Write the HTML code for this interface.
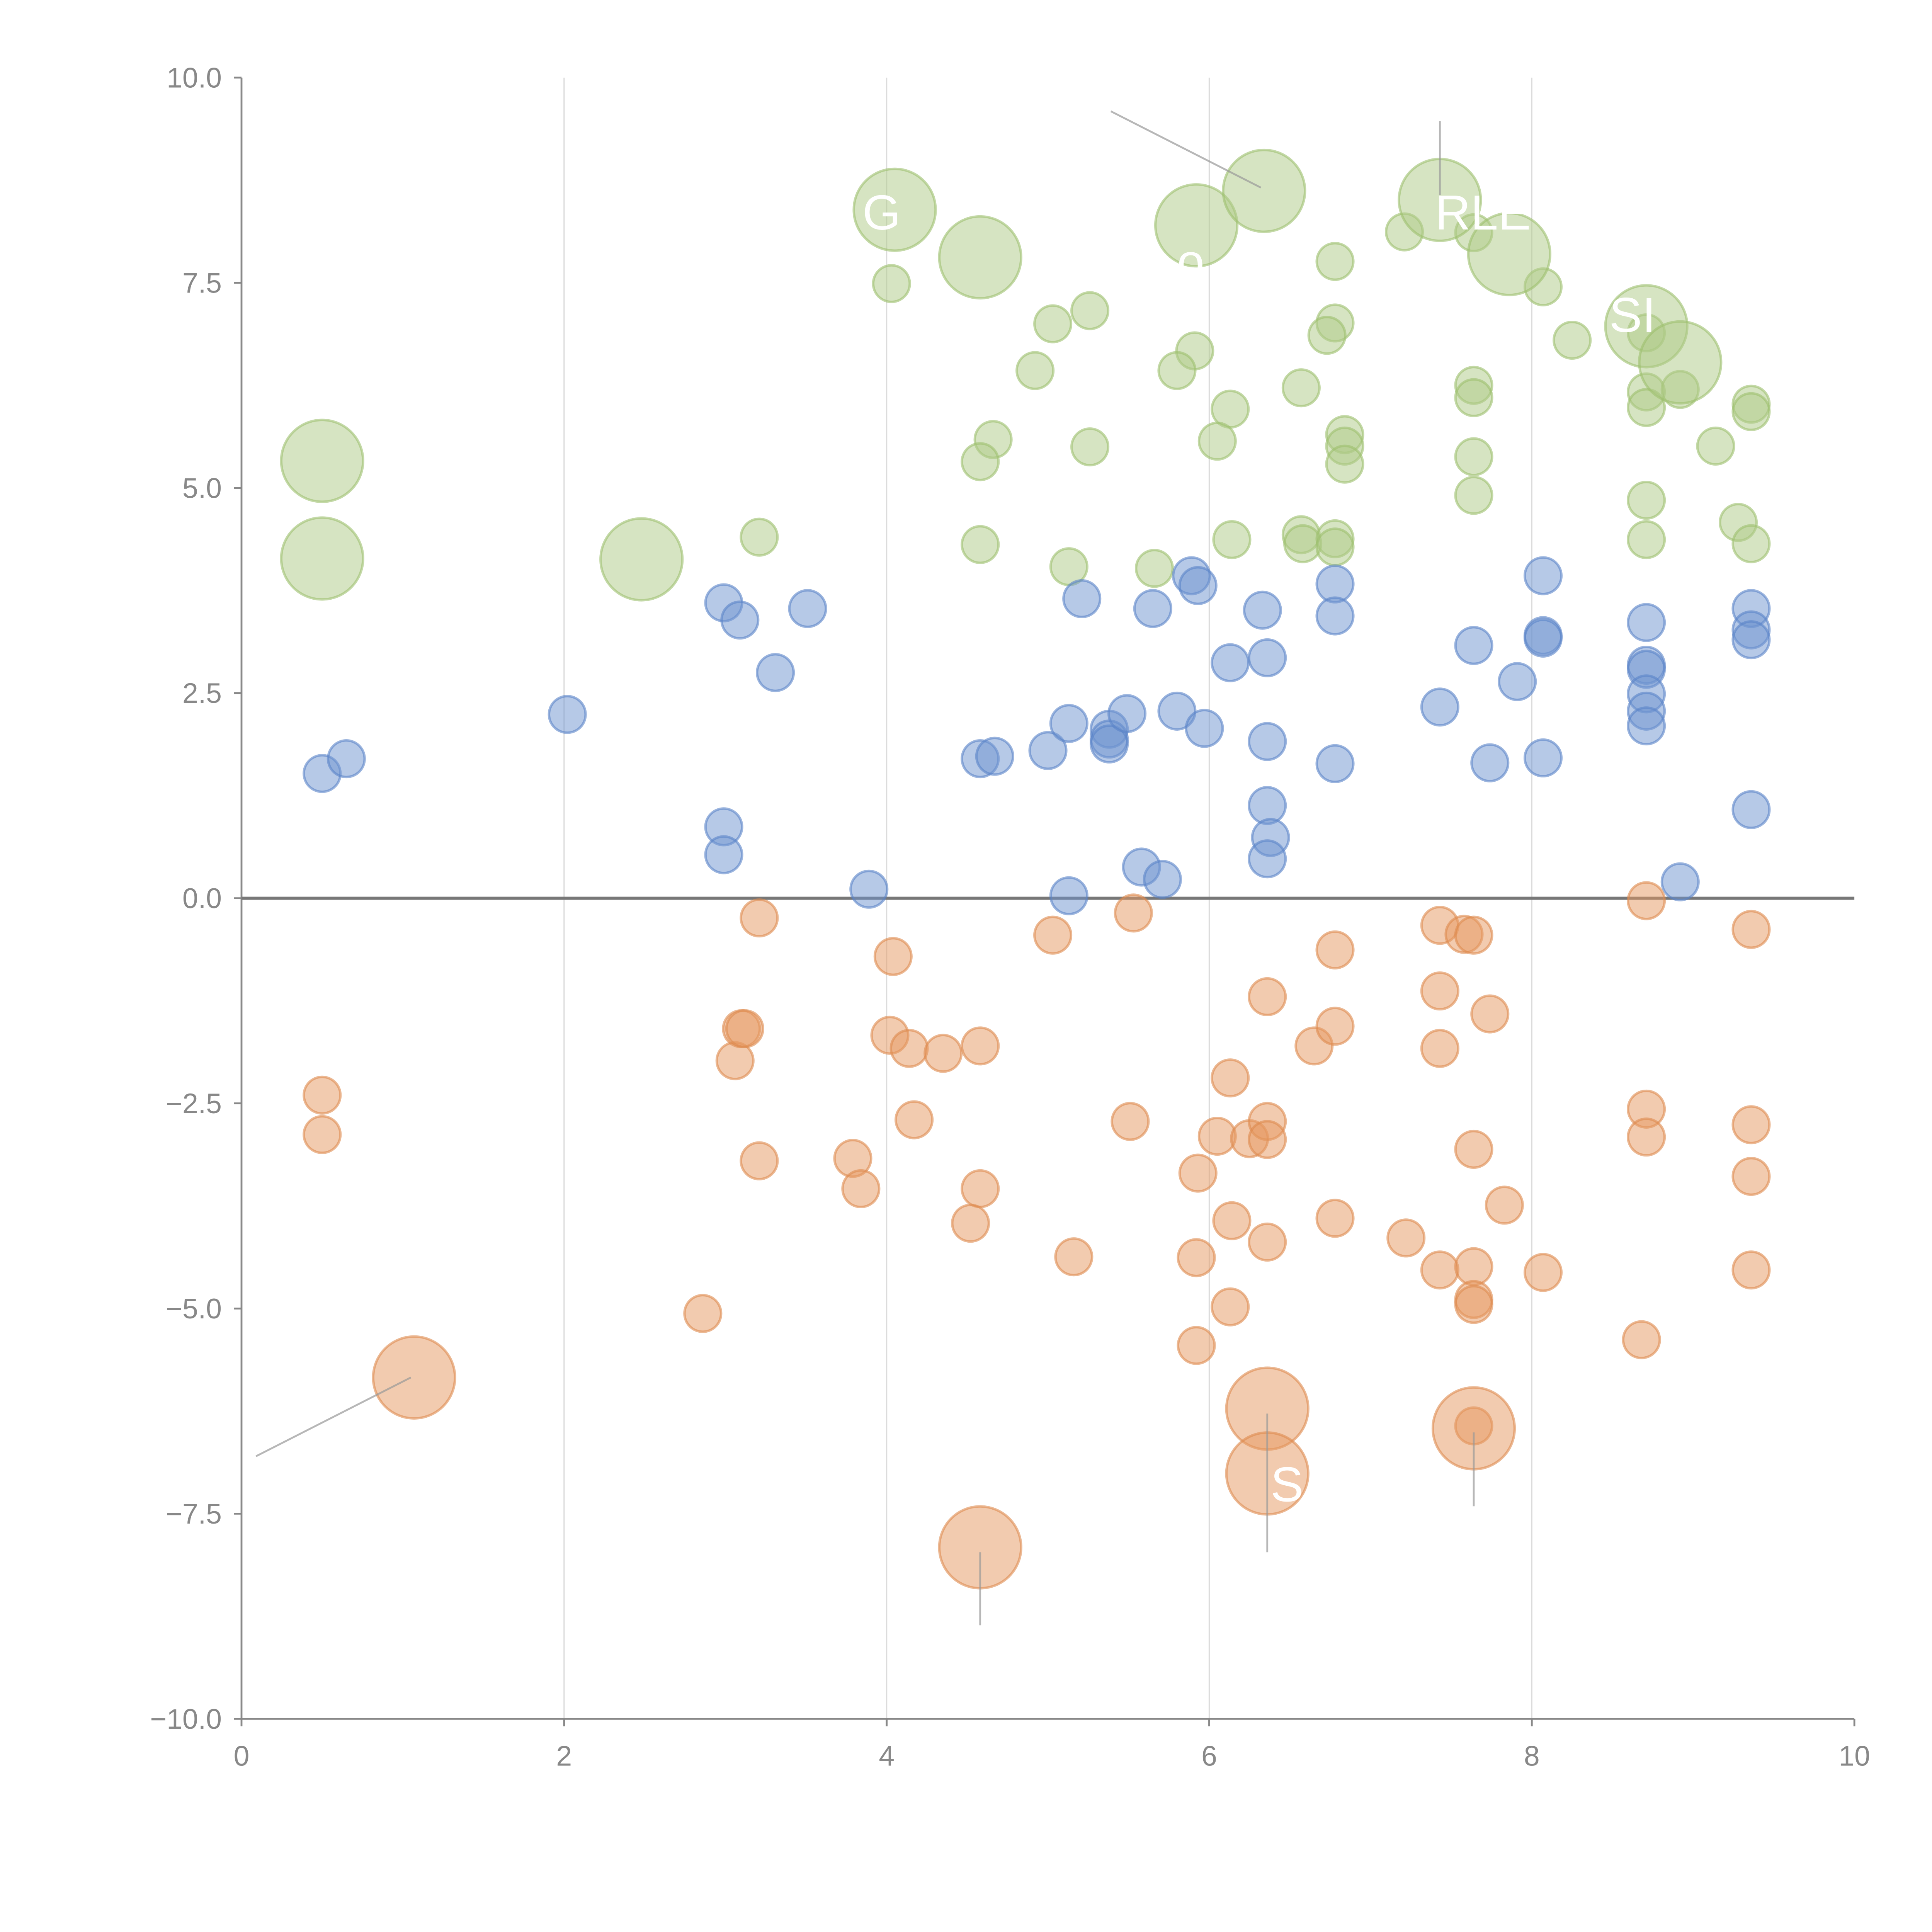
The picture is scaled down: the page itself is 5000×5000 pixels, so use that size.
<!DOCTYPE html>
<html><head><meta charset="utf-8"><style>
html,body{margin:0;padding:0;background:#fff;}
svg{display:block;font-family:"Liberation Sans",sans-serif;}
</style></head><body>
<svg id="chart" width="5000" height="5000" viewBox="0 0 1568 1568" xmlns="http://www.w3.org/2000/svg">
<g id="grid"></g>
<g id="axes"></g>
<g id="marks"></g>
<g id="leaders"></g>
<g id="labels"></g>
</svg>
<script>
const xTicks=[0,2,4,6,8,10];
const xTickLabels=["0","2","4","6","8","10"];
const yTicks=[-10,-7.5,-5,-2.5,0,2.5,5,7.5,10];
const yTickLabels=["\u221210.0","\u22127.5","\u22125.0","\u22122.5","0.0","2.5","5.0","7.5","10.0"];

const greenX=[4.03,5.03,5.26,4.92,4.66,4.58,5.26,4.58,5.13,5.66,3.21,5.91,5.80,6.13,6.05,6.14,6.57,6.57,6.58,6.78,6.78,6.73,6.84,6.84,6.84,6.78,6.78,7.21,7.64,7.64,7.64,7.64,7.64,8.07,8.25,8.71,8.71,8.71,8.71,8.71,8.92,9.14,9.28,9.36,9.36,9.36,
0.50,0.50,2.48,4.05,4.58,5.92,6.34,7.43,7.86,8.71,8.92];
const greenY=[7.49,7.00,7.16,6.43,5.59,5.32,5.50,4.31,4.04,4.02,4.40,6.67,6.43,5.96,5.57,4.37,6.22,4.43,4.32,7.76,7.01,6.86,5.65,5.51,5.29,4.38,4.28,8.12,8.11,6.25,6.10,5.38,4.91,7.45,6.80,6.89,6.17,5.98,4.85,4.37,6.20,5.51,4.58,6.02,5.93,4.32,
5.33,4.14,4.13,8.39,7.81,8.20,8.62,8.51,7.85,6.97,6.53];
const greenS=[1,1,1,1,1,1,1,1,1,1,1,1,1,1,1,1,1,1,1,1,1,1,1,1,1,1,1,1,1,1,1,1,1,1,1,1,1,1,1,1,1,1,1,1,1,1,
5,5,5,5,5,5,5,5,5,5,5];

const blueX=[0.50,0.65,2.02,2.99,3.09,3.51,3.31,2.99,2.99,3.89,4.58,4.67,5.00,5.13,5.21,5.13,5.38,5.38,5.38,5.49,5.65,5.58,5.71,5.80,5.89,5.93,5.97,6.13,6.33,6.36,6.36,6.36,6.38,6.36,6.78,6.78,6.78,7.43,7.64,7.91,7.74,8.07,8.07,8.07,8.07,8.71,8.71,8.71,8.71,8.71,8.71,8.92,9.36,9.36,9.36,9.36];
const blueY=[1.52,1.70,2.24,3.60,3.39,3.53,2.75,0.87,0.53,0.11,1.70,1.73,1.80,2.13,3.65,0.03,2.06,1.94,1.88,2.25,3.53,0.38,0.23,2.28,3.93,3.81,2.07,2.87,3.51,2.93,1.91,1.13,0.74,0.48,3.83,3.44,1.64,2.33,3.08,2.64,1.65,3.93,3.20,3.17,1.71,3.36,2.84,2.79,2.49,2.28,2.10,0.20,3.53,3.27,3.15,1.08];

const orangeX=[0.50,0.50,2.86,3.06,3.10,3.12,3.21,3.21,3.79,3.84,4.04,4.02,4.14,4.17,4.35,4.58,4.58,4.52,5.03,5.16,5.53,5.51,5.93,5.92,5.92,6.05,6.13,6.14,6.13,6.25,6.36,6.36,6.36,6.36,6.65,6.78,6.78,6.78,7.22,7.43,7.43,7.43,7.43,7.58,7.64,7.74,7.83,7.64,7.64,7.64,7.64,7.64,8.07,8.71,8.71,8.71,8.68,9.36,9.36,9.36,9.36,
1.07,4.58,6.36,6.36,7.64];
const orangeY=[-2.40,-2.88,-5.06,-1.98,-1.59,-1.59,-0.24,-3.20,-3.17,-3.54,-0.71,-1.67,-1.83,-2.70,-1.89,-1.80,-3.54,-3.96,-0.45,-4.37,-0.18,-2.72,-3.35,-4.38,-5.45,-2.90,-2.19,-3.93,-4.98,-2.93,-1.20,-2.72,-2.94,-4.19,-1.80,-0.63,-1.56,-3.90,-4.14,-0.33,-1.13,-1.83,-4.53,-0.44,-0.45,-1.41,-3.74,-3.06,-4.49,-4.89,-4.95,-6.43,-4.56,-0.03,-2.57,-2.91,-5.38,-0.38,-2.76,-3.39,-4.53,
-5.84,-7.91,-6.22,-7.01,-6.46];
const orangeS=[1,1,1,1,1,1,1,1,1,1,1,1,1,1,1,1,1,1,1,1,1,1,1,1,1,1,1,1,1,1,1,1,1,1,1,1,1,1,1,1,1,1,1,1,1,1,1,1,1,1,1,1,1,1,1,1,1,1,1,1,1,
5,5,5,5,5];

const leaderX1=[5.39,7.43,0.09,4.58,6.36,7.64];
const leaderY1=[9.59,9.47,-6.80,-7.97,-6.28,-6.51];
const leaderX2=[6.32,7.43,1.05,4.58,6.36,7.64];
const leaderY2=[8.66,8.57,-5.84,-8.86,-7.97,-7.41];

const X0=196,X1=1505,Y0=1395,Y1=63;
const xs=v=>X0+(v-0)/(10-0)*(X1-X0);
const ys=v=>Y0-(v+10)/20*(Y0-Y1);
const rs=s=>15*Math.sqrt(s)*0.99;
const NS="http://www.w3.org/2000/svg";
function mk(tag,attrs,parent){const e=document.createElementNS(NS,tag);for(const k in attrs)e.setAttribute(k,attrs[k]);parent.appendChild(e);return e;}

const grid=document.getElementById('grid');
xTicks.forEach((t,i)=>{if(t===0||t===10)return;
 const l=mk('line',{x1:xs(t),x2:xs(t),y1:Y1,y2:Y0,stroke:'#dcdcdc','stroke-width':1},grid);
 
 
});
const axes=document.getElementById('axes');
const ya=mk('line',{x1:X0,x2:X0,y1:Y1,y2:Y0+1,stroke:'#888','stroke-width':1.5},axes);


const xa=mk('line',{x1:X0,x2:X1,y1:Y0,y2:Y0,stroke:'#888','stroke-width':1.5},axes);


const zl=mk('line',{x1:X0,x2:X1,y1:ys(0),y2:ys(0),stroke:'#777','stroke-width':2.5},axes);


xTicks.forEach((t,i)=>{
 const tk=mk('line',{x1:xs(t),x2:xs(t),y1:Y0,y2:Y0+6,stroke:'#888','stroke-width':1.5},axes);
 
 
 const tx=mk('text',{x:xs(t),y:Y0+38,'text-anchor':'middle','font-size':23,fill:'#888'},axes);
 tx.textContent=xTickLabels[i];
 
 
});
yTicks.forEach((t,i)=>{
 const tk=mk('line',{x1:X0-6,x2:X0,y1:ys(t),y2:ys(t),stroke:'#888','stroke-width':1.5},axes);
 
 
 const tx=mk('text',{x:X0-16,y:ys(t)+8,'text-anchor':'end','font-size':23,fill:'#888'},axes);
 tx.textContent=yTickLabels[i];
 
 
});

const marks=document.getElementById('marks');
function series(X,Y,S,fill,stroke,name){
 X.forEach((x,i)=>{
  const s=S?S[i]:1;
  const c=mk('circle',{cx:xs(x),cy:ys(Y[i]),r:rs(s),fill:fill,'fill-opacity':0.5,stroke:stroke,'stroke-opacity':0.6,'stroke-width':2},marks);
  
  
 });
}
series(greenX,greenY,greenS,'#aec985','#9dbf6e','bubble-green');
series(blueX,blueY,null,'#6d93d0','#5a84c8','bubble-blue');
series(orangeX,orangeY,orangeS,'#e5975f','#de8a4e','bubble-orange');

const leaders=document.getElementById('leaders');
leaderX1.forEach((x,i)=>{
 const l=mk('line',{x1:xs(x),y1:ys(leaderY1[i]),x2:xs(leaderX2[i]),y2:ys(leaderY2[i]),stroke:'#999','stroke-opacity':0.7,'stroke-width':1.5},leaders);
 
 
});

const labels=document.getElementById('labels');
const lblText=["G","RLE","SI","S","o"];
const lblX=[3.85,7.40,8.48,6.38,5.80];
const lblY=[8.15,8.15,6.90,-7.35,7.55];
lblText.forEach((t,i)=>{
 const tx=mk('text',{x:xs(lblX[i]),y:ys(lblY[i]),'font-size':40,fill:'#fff'},labels);
 tx.textContent=t;
 
 
});
</script>
</body></html>
